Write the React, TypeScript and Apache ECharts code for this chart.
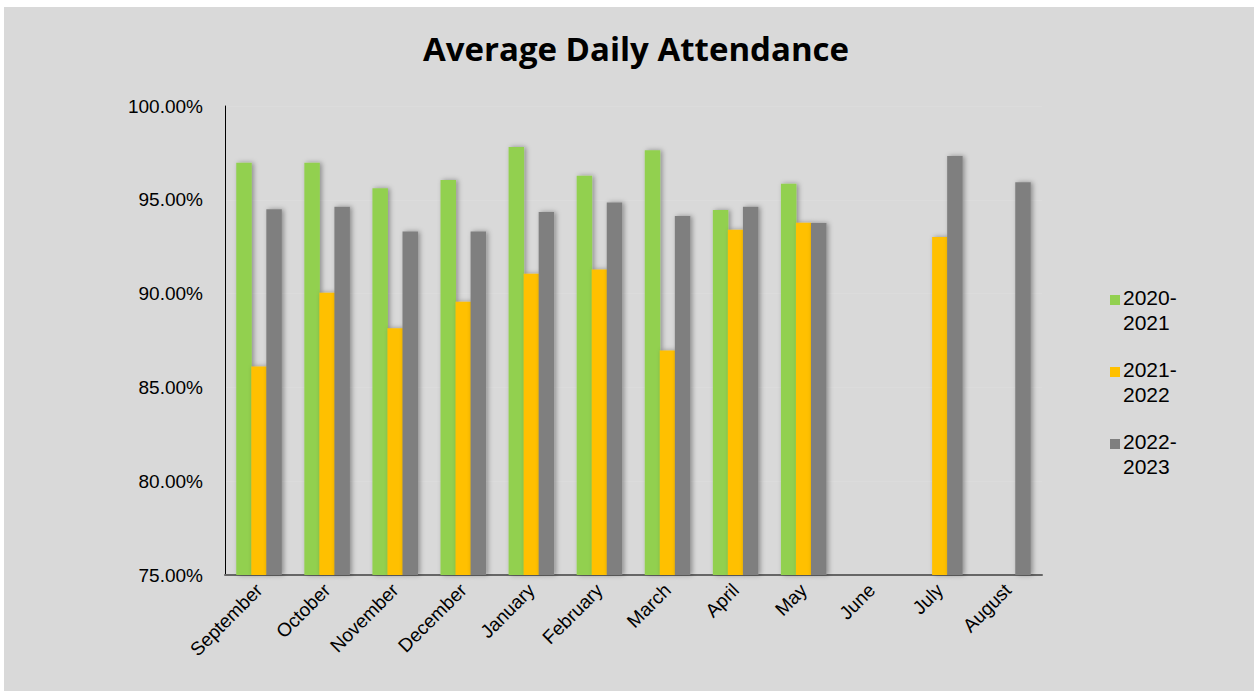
import React, { useEffect, useRef } from "react";
import * as echarts from "echarts";

const months = ["September", "October", "November", "December", "January", "February", "March", "April", "May", "June", "July", "August"];
const s2020: (number | null)[] = [96.97, 96.97, 95.62, 96.05, 97.82, 96.28, 97.64, 94.45, 95.85, 75, 75, null];
const s2021: (number | null)[] = [86.12, 90.05, 88.15, 89.57, 91.06, 91.28, 86.97, 93.4, 93.78, 75, 93.02, null];
const s2022: (number | null)[] = [94.5, 94.63, 93.31, 93.31, 94.35, 94.86, 94.13, 94.63, 93.76, 75, 97.34, 95.94];
const seriesNames = ["2020-2021", "2021-2022", "2022-2023"];
const colors = ["#92d050", "#ffc000", "#7f7f7f"];
const yTicks = { min: 75, max: 100, interval: 5 };

export default function App() {
  const ref = useRef<HTMLDivElement>(null);
  useEffect(() => {
    if (!ref.current) return;
    const chart = echarts.init(ref.current, null, { renderer: "svg" });
    const data = [s2020, s2021, s2022];
    const icon = "path://M0,0L10,0L10,10L0,10Z M0,30L0.01,30Z";
    chart.setOption({
      animation: false,
      backgroundColor: "#ffffff",
      graphic: [
        { type: "rect", shape: { x: 4, y: 7, width: 1260, height: 700 }, style: { fill: "#d9d9d9" }, z: -10, silent: true },
      ],
      title: {
        text: "Average Daily Attendance",
        left: 631,
        textAlign: "center",
        top: 27,
        textStyle: { fontFamily: "Open Sans", fontWeight: "bold", fontSize: 33, color: "#000" },
      },
      legend: {
        orient: "vertical",
        left: 1105,
        top: 280,
        itemWidth: 10,
        itemHeight: 30,
        itemGap: 22,
        icon,
        data: seriesNames.map((n) => ({ name: n, icon })),
        formatter: (n: string) => n.replace("-", "-\n"),
        textStyle: { fontFamily: "Liberation Sans", fontSize: 21, color: "#000", lineHeight: 25, padding: [0, 0, 0, -2] },
      },
      grid: { left: 225, right: 212, top: 106, bottom: 116 },
      xAxis: {
        type: "category",
        data: months,
        axisLine: { show: true, onZero: false, lineStyle: { color: "#666", width: 2 } },
        axisTick: { show: false },
        axisLabel: {
          rotate: 45,
          interval: 0,
          margin: 12,
          fontFamily: "Liberation Sans",
          fontSize: 19,
          color: "#000",
        },
      },
      yAxis: {
        type: "value",
        min: yTicks.min,
        max: yTicks.max,
        interval: yTicks.interval,
        axisLine: { show: true, lineStyle: { color: "#000", width: 1 } },
        axisTick: { show: false },
        splitLine: { show: true, lineStyle: { color: "#dcdcdc", width: 1 } },
        axisLabel: {
          margin: 22,
          formatter: (v: number) => v.toFixed(2) + "%",
          fontFamily: "Liberation Sans",
          fontSize: 19,
          color: "#000",
        },
      },
      series: seriesNames.map((name, i) => ({
        name,
        type: "bar",
        data: data[i],
        barWidth: 15.5,
        barGap: "-3%",
        itemStyle: {
          color: colors[i],
          shadowBlur: 5,
          shadowOffsetX: 2,
          shadowOffsetY: 0,
          shadowColor: "rgba(0,0,0,0.35)",
        },
      })),
    });
    return () => chart.dispose();
  }, []);
  return (
    <div
      ref={ref}
      style={{ position: "fixed", left: 0, top: 0, width: 1254, height: 691 }}
    />
  );
}
